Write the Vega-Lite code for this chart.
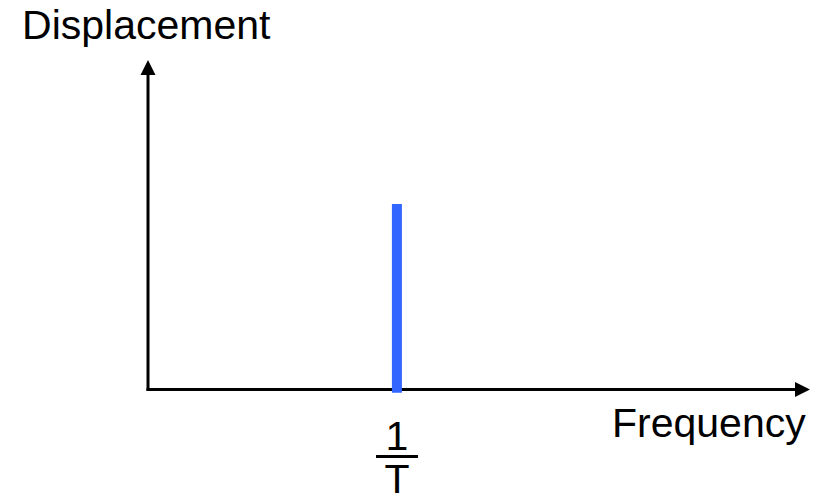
{
  "$schema": "https://vega.github.io/schema/vega-lite/v6.json",
  "width": 825,
  "height": 498,
  "padding": 0,
  "autosize": {"type": "none"},
  "config": {"view": {"stroke": null}},
  "background": "white",
  "layer": [
    {
      "data": {"values": [
        {"x": 0, "y": 0, "x2": 0, "y2": 9.6},
        {"x": 0, "y": 0, "x2": 9.85, "y2": 0}
      ]},
      "mark": {"type": "rule", "color": "black", "strokeWidth": 3, "strokeCap": "square"},
      "encoding": {
        "x": {"field": "x", "type": "quantitative", "axis": null, "scale": {"domain": [-2.236, 10.227], "nice": false, "zero": false}},
        "x2": {"field": "x2"},
        "y": {"field": "y", "type": "quantitative", "axis": null, "scale": {"domain": [-3.293, 11.82], "nice": false, "zero": false}},
        "y2": {"field": "y2"}
      }
    },
    {
      "data": {"values": [{"x": 0, "y": 10}]},
      "mark": {"type": "point", "filled": true, "color": "black", "opacity": 1, "size": 225, "strokeWidth": 0, "shape": "M0,0L1,2L-1,2Z"},
      "encoding": {
        "x": {"field": "x", "type": "quantitative"},
        "y": {"field": "y", "type": "quantitative"}
      }
    },
    {
      "data": {"values": [{"x": 10, "y": 0}]},
      "mark": {"type": "point", "filled": true, "color": "black", "opacity": 1, "size": 225, "strokeWidth": 0, "shape": "M0,0L-2,-1L-2,1Z"},
      "encoding": {
        "x": {"field": "x", "type": "quantitative"},
        "y": {"field": "y", "type": "quantitative"}
      }
    },
    {
      "data": {"values": [{"x": 3.76, "y": -0.1, "y2": 5.63}]},
      "mark": {"type": "rule", "color": "#3366FF", "strokeWidth": 10, "strokeCap": "butt"},
      "encoding": {
        "x": {"field": "x", "type": "quantitative"},
        "y": {"field": "y", "type": "quantitative"},
        "y2": {"field": "y2"}
      }
    },
    {
      "data": {"values": [{"x": 3.444, "x2": 4.079, "y": -2.033}]},
      "mark": {"type": "rule", "color": "black", "strokeWidth": 3},
      "encoding": {
        "x": {"field": "x", "type": "quantitative"},
        "x2": {"field": "x2"},
        "y": {"field": "y", "type": "quantitative"}
      }
    },
    {
      "data": {"values": [
        {"x": -1.903, "y": 10.64, "label": "Displacement"},
        {"x": 7.009, "y": -1.44, "label": "Frequency"}
      ]},
      "mark": {"type": "text", "align": "left", "baseline": "alphabetic", "font": "Liberation Sans", "fontSize": 41, "color": "black"},
      "encoding": {
        "x": {"field": "x", "type": "quantitative"},
        "y": {"field": "y", "type": "quantitative"},
        "text": {"field": "label"}
      }
    },
    {
      "data": {"values": [
        {"x": 3.76, "y": -1.836, "label": "1"},
        {"x": 3.76, "y": -3.14, "label": "T"}
      ]},
      "mark": {"type": "text", "align": "center", "baseline": "alphabetic", "font": "Liberation Sans", "fontSize": 41, "color": "black"},
      "encoding": {
        "x": {"field": "x", "type": "quantitative"},
        "y": {"field": "y", "type": "quantitative"},
        "text": {"field": "label"}
      }
    }
  ]
}
